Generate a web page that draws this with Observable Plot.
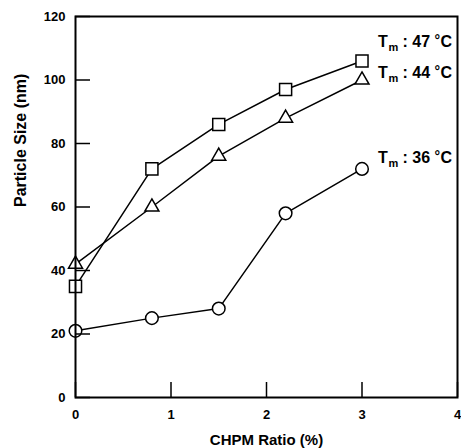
<!DOCTYPE html>
<html>
<head>
<meta charset="utf-8">
<script src="https://cdn.jsdelivr.net/npm/d3@7"></script>
<script src="https://cdn.jsdelivr.net/npm/@observablehq/plot@0.6"></script>
<style>
  html, body { margin: 0; padding: 0; background: #fff; }
  #chart svg { display: block; font-family: "Liberation Sans", Arial, sans-serif; }
</style>
</head>
<body>
<div id="chart"></div>
<script>
const chpmRatio = [0, 0.8, 1.5, 2.2, 3];
const sizeTm47 = [35, 72, 86, 97, 106];
const sizeTm44 = [42, 60, 76, 88, 100];
const sizeTm36 = [21, 25, 28, 58, 72];
const seriesTemps = ["47", "44", "36"];
const seriesSymbols = ["square", "triangle", "circle"];
const labelYValues = [112, 102.3, 75.5];
const xTicks = [0, 1, 2, 3, 4];
const yTicks = [0, 20, 40, 60, 80, 100, 120];
const xLabel = "CHPM Ratio (%)";
const yLabel = "Particle Size (nm)";

const seriesValues = [sizeTm47, sizeTm44, sizeTm36];
const rows = seriesValues.flatMap((vals, i) =>
  vals.map((v, j) => ({x: chpmRatio[j], y: v, series: seriesTemps[i]})));
const lastX = chpmRatio[chpmRatio.length - 1];
const labels = seriesTemps.map((t, i) => ({x: lastX, y: labelYValues[i], t}));

const font = {fontFamily: "Liberation Sans, Arial, sans-serif", fontWeight: "bold"};
const radii = {square: 6.8, triangle: 5.2, circle: 6.3};

const marks = [
  Plot.line(rows, {x: "x", y: "y", z: "series", stroke: "black", strokeWidth: 1.5}),
  ...seriesTemps.map((t, i) =>
    Plot.dot(rows.filter(d => d.series === t), {
      x: "x", y: "y", symbol: () => seriesSymbols[i], r: radii[seriesSymbols[i]],
      fill: "white", stroke: "black", strokeWidth: 1.5
    })),
  Plot.frame({stroke: "black", strokeWidth: 2}),
  Plot.axisX(xTicks, {anchor: "bottom", tickSize: 15, dy: -15, tickFormat: () => "", strokeWidth: 1.5, label: null}),
  Plot.axisY(yTicks, {anchor: "left", tickSize: 15, dx: 15, tickFormat: () => "", strokeWidth: 1.5, label: null}),
  Plot.axisX(xTicks, {tickSize: 0, tickPadding: 12, fontSize: 13, ...font, label: null}),
  Plot.axisY(yTicks, {tickSize: 0, tickPadding: 10, fontSize: 13, ...font, label: null}),
  Plot.text([xLabel], {frameAnchor: "bottom", dy: 47, text: d => d, fontSize: 15, ...font, lineAnchor: "bottom"}),
  Plot.text([yLabel], {frameAnchor: "left", dx: -55, rotate: -90, text: d => d, fontSize: 16, ...font}),
  Plot.text(labels, {x: "x", y: "y", text: () => "T", dx: 16, textAnchor: "start", fontSize: 16, ...font}),
  Plot.text(labels, {x: "x", y: "y", text: () => "m", dx: 26.5, dy: 5.5, textAnchor: "start", fontSize: 11, ...font}),
  Plot.text(labels, {x: "x", y: "y", text: d => ": " + d.t, dx: 40.5, textAnchor: "start", fontSize: 16, ...font}),
  Plot.text(labels, {x: "x", y: "y", text: () => "°", dx: 72.5, dy: -1, textAnchor: "start", fontSize: 14, ...font}),
  Plot.text(labels, {x: "x", y: "y", text: () => "C", dx: 78.5, textAnchor: "start", fontSize: 16, ...font})
];

const chart = Plot.plot({
  width: 461,
  height: 448,
  marginLeft: 75,
  marginRight: 4,
  marginTop: 16,
  marginBottom: 51,
  x: {domain: [0, 4]},
  y: {domain: [0, 120]},
  style: {background: "white", color: "black"},
  marks
});
document.getElementById("chart").appendChild(chart);
</script>
</body>
</html>
